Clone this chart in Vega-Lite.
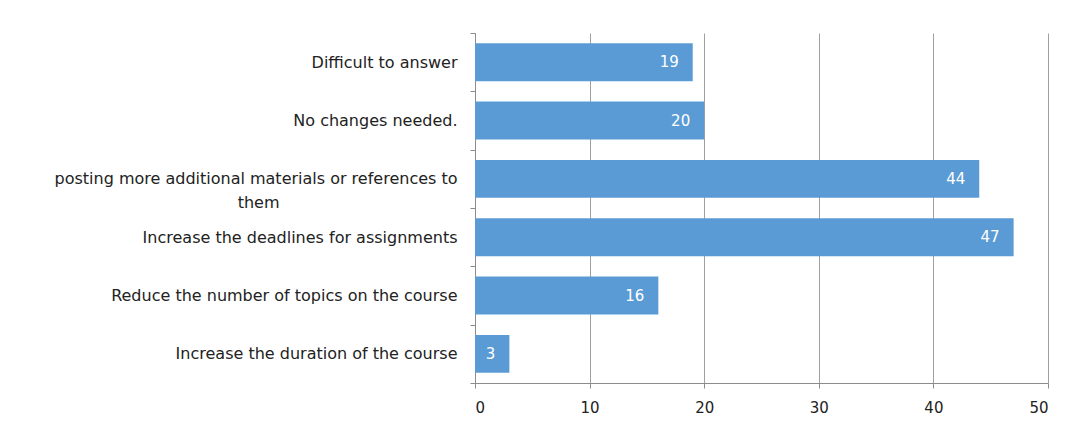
{
  "$schema": "https://vega.github.io/schema/vega-lite/v6.json",
  "width": 573,
  "height": 350,
  "autosize": {"type": "none"},
  "padding": {"left": 475, "top": 33, "right": 18, "bottom": 47},
  "background": "white",
  "data": {"values": [
    {"answer": "Difficult to answer", "count": 19},
    {"answer": "No changes needed.", "count": 20},
    {"answer": "posting more additional materials or references to|them\u00a0\u00a0\u00a0\u00a0\u00a0\u00a0\u00a0\u00a0\u00a0\u00a0\u00a0\u00a0\u00a0\u00a0\u00a0\u00a0\u00a0\u00a0\u00a0\u00a0\u00a0\u00a0\u00a0\u00a0\u00a0\u00a0\u00a0\u00a0\u00a0\u00a0\u00a0\u00a0\u00a0\u00a0\u00a0\u200b", "count": 44},
    {"answer": "Increase the deadlines for assignments", "count": 47},
    {"answer": "Reduce the number of topics on the course", "count": 16},
    {"answer": "Increase the duration of the course", "count": 3}
  ]},
  "encoding": {
    "y": {
      "field": "answer", "type": "nominal", "sort": null,
      "scale": {"paddingInner": 0, "paddingOuter": 0},
      "axis": {
        "title": null, "domainColor": "#8c8c8c", "tickColor": "#8c8c8c",
        "tickBand": "extent", "tickSize": 5, "grid": false,
        "labelFont": "DejaVu Sans", "labelFontSize": 16, "labelColor": "#222222",
        "labelPadding": 13, "labelLimit": 0, "labelLineHeight": 24,
        "labelExpr": "split(datum.label, '|')"
      }
    },
    "x": {
      "field": "count", "type": "quantitative",
      "scale": {"domain": [0, 50], "nice": false},
      "axis": {
        "title": null, "values": [0, 10, 20, 30, 40, 50],
        "domainColor": "#8c8c8c", "tickColor": "#8c8c8c", "tickSize": 5,
        "grid": true, "gridColor": "#a0a0a0",
        "labelFont": "DejaVu Sans", "labelFontSize": 15, "labelColor": "#222222",
        "labelPadding": 12
      }
    }
  },
  "layer": [
    {"mark": {"type": "bar", "color": "#5B9BD5", "height": {"band": 0.65}}},
    {"mark": {"type": "text", "align": "right", "dx": -14, "color": "white", "font": "DejaVu Sans", "fontSize": 15},
     "encoding": {"text": {"field": "count"}}}
  ],
  "config": {"view": {"stroke": null}}
}
